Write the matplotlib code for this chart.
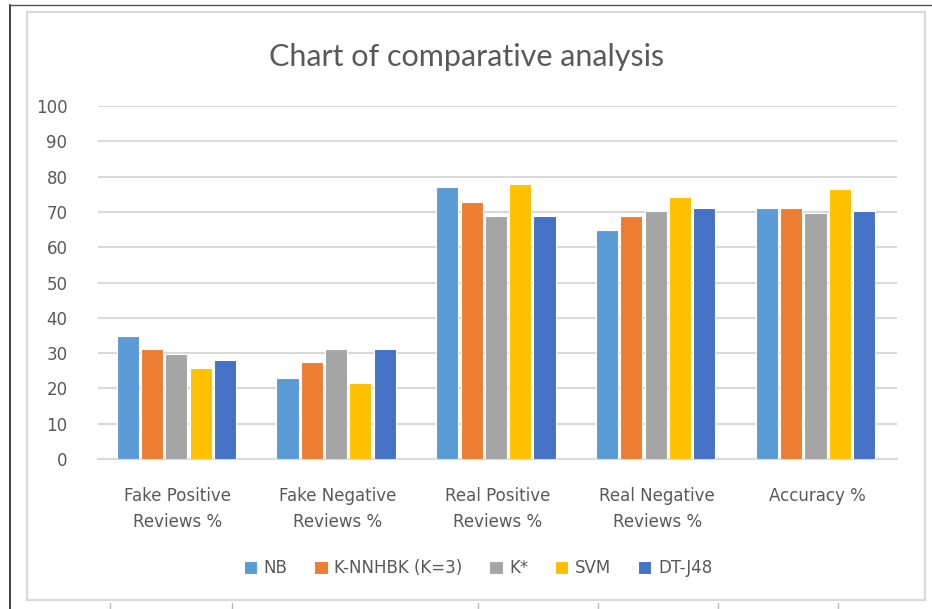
import numpy as np
import matplotlib.pyplot as plt
from matplotlib.patches import Rectangle
from matplotlib.lines import Line2D

# Data
categories = ['Fake Positive\nReviews %', 'Fake Negative\nReviews %', 'Real Positive\nReviews %',
              'Real Negative\nReviews %', 'Accuracy %']
models = ['NB', 'K-NNHBK (K=3)', 'K*', 'SVM', 'DT-J48']
nb = [34.9, 22.9, 77.1, 64.9, 71.0]
knn = [31.2, 27.4, 72.7, 68.7, 71.0]
kstar = [29.7, 31.2, 68.7, 70.3, 69.7]
svm = [25.9, 21.4, 77.9, 74.1, 76.4]
dtj48 = [28.1, 31.2, 68.7, 71.0, 70.3]
series = [nb, knn, kstar, svm, dtj48]
colors = ['#5B9BD5', '#ED7D31', '#A5A5A5', '#FFC000', '#4472C4']
yticks = list(range(0, 101, 10))

W, H = 932, 609
fig = plt.figure(figsize=(W / 100, H / 100), dpi=100, facecolor='white')
plt.rcParams['font.family'] = ['DejaVu Sans']

# chart area frame and page lines
fig.add_artist(Rectangle((27 / W, 1 - 600 / H), 898 / W, 588 / H, transform=fig.transFigure,
                         fill=False, edgecolor='#D9D9D9', linewidth=1.5))
fig.add_artist(Line2D([10 / W, 10 / W], [0, 1 - 5 / H], transform=fig.transFigure, color='#222222', lw=1.2))
fig.add_artist(Line2D([10 / W, 1], [1 - 5 / H, 1 - 5 / H], transform=fig.transFigure, color='#555555', lw=1))
for xb in [110, 232, 478, 598, 718, 838]:
    fig.add_artist(Line2D([xb / W, xb / W], [0, 1 - 603 / H], transform=fig.transFigure,
                          color='#BBBBBB', lw=1))

ax = fig.add_axes([98 / W, 1 - 459 / H, 799 / W, 353 / H])
ax.set_facecolor('white')

x = np.arange(len(categories))
pitch = 0.152
width = 0.138
for i, (vals, name, col) in enumerate(zip(series, models, colors)):
    ax.bar(x + (i - 2) * pitch - 0.01, vals, width, color=col, label=name,
           edgecolor='white', linewidth=0.8, zorder=3)

ax.set_xlim(-0.5, len(categories) - 0.5)
ax.set_ylim(0, 100)
ax.set_yticks(yticks)
ax.yaxis.grid(True, color='#D9D9D9', linewidth=1.5, zorder=0)
ax.set_axisbelow(True)
for s in ['top', 'right', 'left']:
    ax.spines[s].set_visible(False)
ax.spines['bottom'].set_color('#D9D9D9')
ax.spines['bottom'].set_linewidth(1.5)

ax.set_xticks(x)
ax.set_xticklabels(categories, fontsize=12, color='#595959', linespacing=1.6)
ax.tick_params(axis='x', length=0, pad=20)
ax.tick_params(axis='y', length=0, pad=22, labelsize=12, labelcolor='#595959')

fig.text(467 / W, 1 - 57 / H, 'Chart of comparative analysis', fontsize=22, color='#595959',
         ha='center', va='center', family='Lato')

fig.legend(loc='center', bbox_to_anchor=(478 / W, 1 - 568 / H), ncol=5, frameon=False,
           fontsize=12, labelcolor='#595959', handlelength=0.8, handleheight=0.8,
           handletextpad=0.4, columnspacing=1.6)

fig.savefig('out.png', dpi=100, facecolor='white')
